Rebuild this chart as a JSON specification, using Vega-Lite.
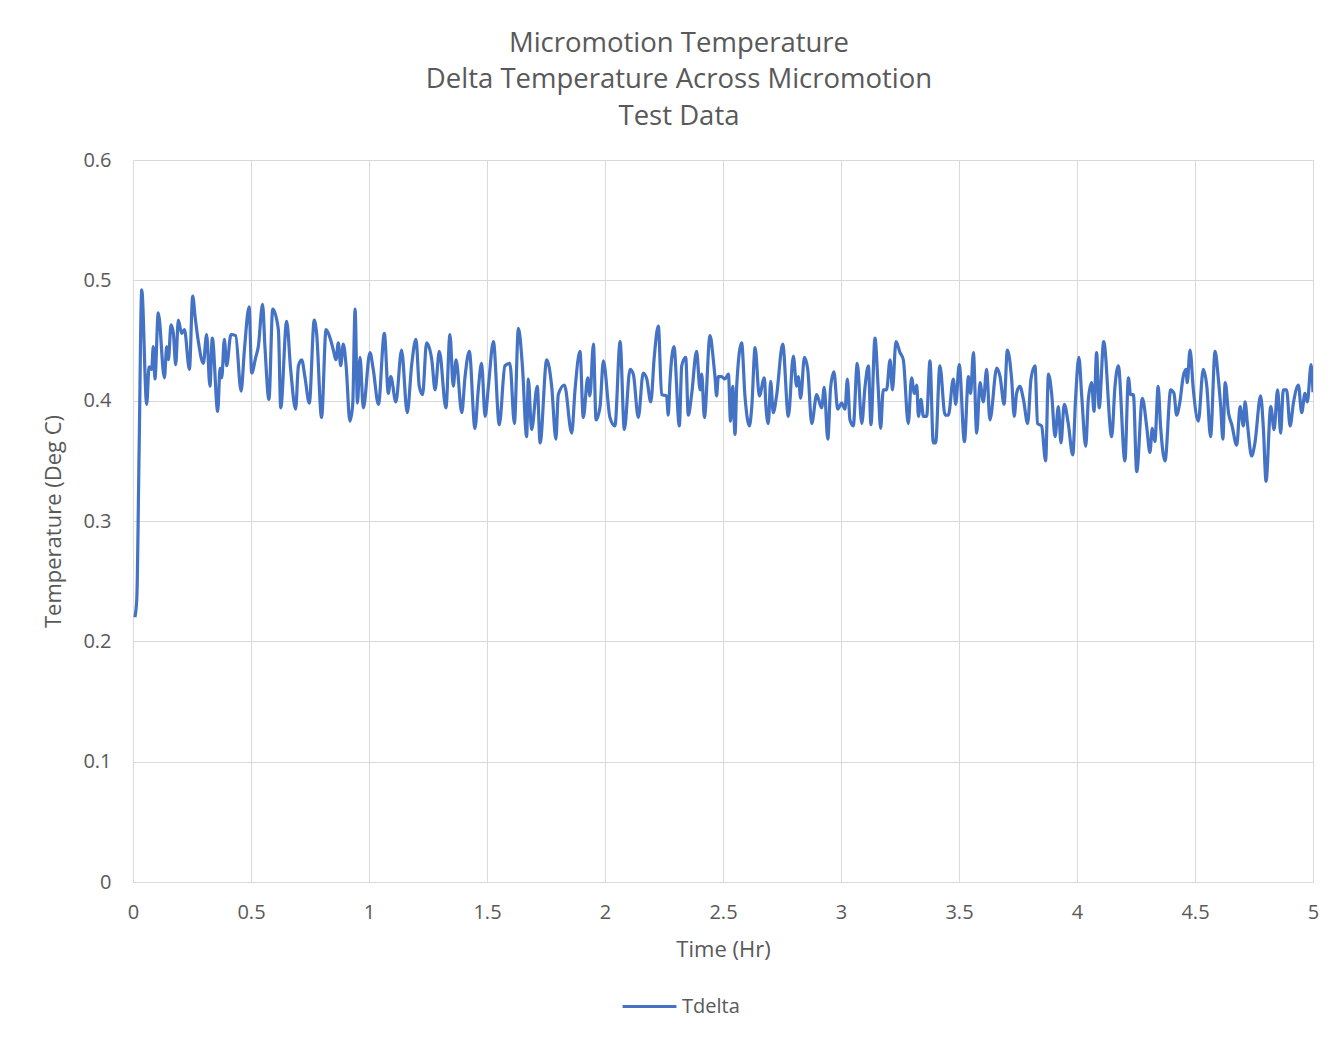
{
  "$schema": "https://vega.github.io/schema/vega-lite/v6.json",
  "width": 1180,
  "height": 722,
  "autosize": {"type": "none"},
  "padding": {"left": 133, "top": 160, "right": 22, "bottom": 155},
  "background": "white",
  "title": {
    "text": ["Micromotion Temperature", "Delta Temperature Across Micromotion", "Test Data"],
    "anchor": "middle",
    "dx": -44,
    "offset": 20,
    "fontSize": 27.5,
    "font": "Open Sans",
    "fontWeight": "normal",
    "color": "#595959",
    "lineHeight": 36.5
  },
  "config": {
    "view": {"stroke": null},
    "font": "Open Sans",
    "axis": {
      "grid": true,
      "gridColor": "#d9d9d9",
      "gridWidth": 1,
      "domain": false,
      "ticks": false,
      "labelColor": "#595959",
      "labelFontSize": 20,
      "titleColor": "#595959",
      "titleFontSize": 22,
      "titleFontWeight": "normal"
    }
  },
  "data": {
    "values": [
      {"time":0.008,"tdelta":0.22},{"time":0.016,"tdelta":0.235},{"time":0.026,"tdelta":0.36},{"time":0.037,"tdelta":0.492},{"time":0.058,"tdelta":0.397},{"time":0.068,"tdelta":0.428},{"time":0.079,"tdelta":0.426},{"time":0.086,"tdelta":0.445},{"time":0.093,"tdelta":0.418},{"time":0.107,"tdelta":0.473},{"time":0.133,"tdelta":0.419},{"time":0.143,"tdelta":0.445},{"time":0.150,"tdelta":0.434},{"time":0.161,"tdelta":0.463},{"time":0.171,"tdelta":0.456},{"time":0.181,"tdelta":0.430},{"time":0.192,"tdelta":0.467},{"time":0.206,"tdelta":0.456},{"time":0.218,"tdelta":0.459},{"time":0.239,"tdelta":0.426},{"time":0.253,"tdelta":0.487},{"time":0.263,"tdelta":0.470},{"time":0.277,"tdelta":0.449},{"time":0.298,"tdelta":0.431},{"time":0.312,"tdelta":0.455},{"time":0.326,"tdelta":0.412},{"time":0.336,"tdelta":0.452},{"time":0.359,"tdelta":0.391},{"time":0.369,"tdelta":0.427},{"time":0.376,"tdelta":0.419},{"time":0.387,"tdelta":0.451},{"time":0.397,"tdelta":0.429},{"time":0.415,"tdelta":0.455},{"time":0.435,"tdelta":0.454},{"time":0.458,"tdelta":0.408},{"time":0.472,"tdelta":0.442},{"time":0.492,"tdelta":0.478},{"time":0.503,"tdelta":0.423},{"time":0.520,"tdelta":0.436},{"time":0.531,"tdelta":0.445},{"time":0.549,"tdelta":0.480},{"time":0.559,"tdelta":0.445},{"time":0.576,"tdelta":0.401},{"time":0.592,"tdelta":0.476},{"time":0.616,"tdelta":0.459},{"time":0.626,"tdelta":0.394},{"time":0.651,"tdelta":0.466},{"time":0.668,"tdelta":0.426},{"time":0.689,"tdelta":0.393},{"time":0.701,"tdelta":0.429},{"time":0.715,"tdelta":0.434},{"time":0.729,"tdelta":0.419},{"time":0.747,"tdelta":0.398},{"time":0.768,"tdelta":0.467},{"time":0.778,"tdelta":0.456},{"time":0.799,"tdelta":0.386},{"time":0.818,"tdelta":0.459},{"time":0.835,"tdelta":0.452},{"time":0.849,"tdelta":0.442},{"time":0.860,"tdelta":0.434},{"time":0.870,"tdelta":0.448},{"time":0.880,"tdelta":0.429},{"time":0.891,"tdelta":0.447},{"time":0.903,"tdelta":0.429},{"time":0.919,"tdelta":0.383},{"time":0.931,"tdelta":0.397},{"time":0.941,"tdelta":0.476},{"time":0.951,"tdelta":0.398},{"time":0.962,"tdelta":0.436},{"time":0.976,"tdelta":0.394},{"time":1.004,"tdelta":0.440},{"time":1.018,"tdelta":0.426},{"time":1.040,"tdelta":0.397},{"time":1.065,"tdelta":0.456},{"time":1.082,"tdelta":0.406},{"time":1.092,"tdelta":0.420},{"time":1.114,"tdelta":0.399},{"time":1.138,"tdelta":0.442},{"time":1.162,"tdelta":0.390},{"time":1.181,"tdelta":0.430},{"time":1.199,"tdelta":0.451},{"time":1.213,"tdelta":0.412},{"time":1.227,"tdelta":0.405},{"time":1.244,"tdelta":0.448},{"time":1.266,"tdelta":0.434},{"time":1.280,"tdelta":0.409},{"time":1.298,"tdelta":0.441},{"time":1.326,"tdelta":0.394},{"time":1.343,"tdelta":0.455},{"time":1.357,"tdelta":0.412},{"time":1.369,"tdelta":0.434},{"time":1.393,"tdelta":0.390},{"time":1.407,"tdelta":0.420},{"time":1.425,"tdelta":0.441},{"time":1.449,"tdelta":0.377},{"time":1.463,"tdelta":0.409},{"time":1.477,"tdelta":0.431},{"time":1.492,"tdelta":0.387},{"time":1.506,"tdelta":0.412},{"time":1.527,"tdelta":0.449},{"time":1.552,"tdelta":0.380},{"time":1.576,"tdelta":0.429},{"time":1.597,"tdelta":0.431},{"time":1.616,"tdelta":0.381},{"time":1.633,"tdelta":0.460},{"time":1.650,"tdelta":0.429},{"time":1.668,"tdelta":0.370},{"time":1.675,"tdelta":0.418},{"time":1.689,"tdelta":0.376},{"time":1.713,"tdelta":0.412},{"time":1.725,"tdelta":0.365},{"time":1.753,"tdelta":0.434},{"time":1.774,"tdelta":0.412},{"time":1.792,"tdelta":0.368},{"time":1.802,"tdelta":0.405},{"time":1.828,"tdelta":0.413},{"time":1.859,"tdelta":0.373},{"time":1.873,"tdelta":0.409},{"time":1.894,"tdelta":0.441},{"time":1.908,"tdelta":0.386},{"time":1.927,"tdelta":0.419},{"time":1.936,"tdelta":0.404},{"time":1.951,"tdelta":0.447},{"time":1.962,"tdelta":0.384},{"time":1.979,"tdelta":0.395},{"time":1.993,"tdelta":0.433},{"time":2.021,"tdelta":0.386},{"time":2.042,"tdelta":0.379},{"time":2.064,"tdelta":0.449},{"time":2.082,"tdelta":0.376},{"time":2.106,"tdelta":0.426},{"time":2.120,"tdelta":0.422},{"time":2.141,"tdelta":0.386},{"time":2.162,"tdelta":0.423},{"time":2.177,"tdelta":0.418},{"time":2.194,"tdelta":0.399},{"time":2.209,"tdelta":0.437},{"time":2.226,"tdelta":0.462},{"time":2.240,"tdelta":0.405},{"time":2.261,"tdelta":0.404},{"time":2.268,"tdelta":0.388},{"time":2.275,"tdelta":0.415},{"time":2.292,"tdelta":0.445},{"time":2.315,"tdelta":0.379},{"time":2.325,"tdelta":0.429},{"time":2.342,"tdelta":0.436},{"time":2.353,"tdelta":0.388},{"time":2.367,"tdelta":0.405},{"time":2.388,"tdelta":0.441},{"time":2.403,"tdelta":0.409},{"time":2.410,"tdelta":0.422},{"time":2.421,"tdelta":0.386},{"time":2.445,"tdelta":0.454},{"time":2.459,"tdelta":0.434},{"time":2.466,"tdelta":0.420},{"time":2.473,"tdelta":0.404},{"time":2.480,"tdelta":0.420},{"time":2.494,"tdelta":0.420},{"time":2.508,"tdelta":0.418},{"time":2.523,"tdelta":0.422},{"time":2.532,"tdelta":0.383},{"time":2.541,"tdelta":0.412},{"time":2.551,"tdelta":0.372},{"time":2.558,"tdelta":0.412},{"time":2.579,"tdelta":0.448},{"time":2.593,"tdelta":0.404},{"time":2.612,"tdelta":0.379},{"time":2.622,"tdelta":0.395},{"time":2.636,"tdelta":0.444},{"time":2.654,"tdelta":0.404},{"time":2.675,"tdelta":0.419},{"time":2.682,"tdelta":0.395},{"time":2.692,"tdelta":0.381},{"time":2.702,"tdelta":0.416},{"time":2.713,"tdelta":0.390},{"time":2.727,"tdelta":0.404},{"time":2.753,"tdelta":0.447},{"time":2.777,"tdelta":0.387},{"time":2.798,"tdelta":0.437},{"time":2.812,"tdelta":0.412},{"time":2.819,"tdelta":0.420},{"time":2.829,"tdelta":0.402},{"time":2.845,"tdelta":0.436},{"time":2.859,"tdelta":0.426},{"time":2.876,"tdelta":0.381},{"time":2.897,"tdelta":0.405},{"time":2.918,"tdelta":0.394},{"time":2.929,"tdelta":0.411},{"time":2.944,"tdelta":0.368},{"time":2.956,"tdelta":0.411},{"time":2.970,"tdelta":0.424},{"time":2.986,"tdelta":0.393},{"time":3.003,"tdelta":0.398},{"time":3.017,"tdelta":0.393},{"time":3.027,"tdelta":0.418},{"time":3.038,"tdelta":0.384},{"time":3.052,"tdelta":0.379},{"time":3.069,"tdelta":0.431},{"time":3.088,"tdelta":0.381},{"time":3.102,"tdelta":0.412},{"time":3.116,"tdelta":0.429},{"time":3.127,"tdelta":0.380},{"time":3.144,"tdelta":0.452},{"time":3.158,"tdelta":0.409},{"time":3.168,"tdelta":0.377},{"time":3.179,"tdelta":0.409},{"time":3.193,"tdelta":0.409},{"time":3.208,"tdelta":0.434},{"time":3.218,"tdelta":0.409},{"time":3.233,"tdelta":0.449},{"time":3.250,"tdelta":0.440},{"time":3.264,"tdelta":0.434},{"time":3.285,"tdelta":0.381},{"time":3.299,"tdelta":0.419},{"time":3.311,"tdelta":0.406},{"time":3.321,"tdelta":0.413},{"time":3.328,"tdelta":0.387},{"time":3.339,"tdelta":0.401},{"time":3.349,"tdelta":0.387},{"time":3.363,"tdelta":0.387},{"time":3.377,"tdelta":0.433},{"time":3.391,"tdelta":0.365},{"time":3.401,"tdelta":0.365},{"time":3.419,"tdelta":0.429},{"time":3.441,"tdelta":0.388},{"time":3.455,"tdelta":0.388},{"time":3.476,"tdelta":0.418},{"time":3.486,"tdelta":0.397},{"time":3.501,"tdelta":0.430},{"time":3.523,"tdelta":0.366},{"time":3.540,"tdelta":0.420},{"time":3.549,"tdelta":0.406},{"time":3.561,"tdelta":0.440},{"time":3.575,"tdelta":0.373},{"time":3.589,"tdelta":0.415},{"time":3.603,"tdelta":0.399},{"time":3.617,"tdelta":0.426},{"time":3.631,"tdelta":0.384},{"time":3.660,"tdelta":0.427},{"time":3.674,"tdelta":0.420},{"time":3.691,"tdelta":0.397},{"time":3.705,"tdelta":0.442},{"time":3.723,"tdelta":0.418},{"time":3.734,"tdelta":0.387},{"time":3.744,"tdelta":0.406},{"time":3.758,"tdelta":0.412},{"time":3.773,"tdelta":0.401},{"time":3.791,"tdelta":0.381},{"time":3.805,"tdelta":0.418},{"time":3.822,"tdelta":0.429},{"time":3.833,"tdelta":0.381},{"time":3.850,"tdelta":0.379},{"time":3.867,"tdelta":0.350},{"time":3.879,"tdelta":0.422},{"time":3.893,"tdelta":0.405},{"time":3.907,"tdelta":0.370},{"time":3.921,"tdelta":0.395},{"time":3.932,"tdelta":0.365},{"time":3.946,"tdelta":0.397},{"time":3.963,"tdelta":0.381},{"time":3.982,"tdelta":0.355},{"time":3.994,"tdelta":0.402},{"time":4.008,"tdelta":0.436},{"time":4.020,"tdelta":0.404},{"time":4.037,"tdelta":0.362},{"time":4.048,"tdelta":0.401},{"time":4.062,"tdelta":0.415},{"time":4.072,"tdelta":0.391},{"time":4.083,"tdelta":0.440},{"time":4.094,"tdelta":0.394},{"time":4.113,"tdelta":0.449},{"time":4.147,"tdelta":0.370},{"time":4.161,"tdelta":0.412},{"time":4.175,"tdelta":0.429},{"time":4.203,"tdelta":0.350},{"time":4.218,"tdelta":0.419},{"time":4.227,"tdelta":0.405},{"time":4.239,"tdelta":0.405},{"time":4.253,"tdelta":0.341},{"time":4.277,"tdelta":0.402},{"time":4.295,"tdelta":0.379},{"time":4.309,"tdelta":0.357},{"time":4.319,"tdelta":0.377},{"time":4.330,"tdelta":0.366},{"time":4.344,"tdelta":0.412},{"time":4.354,"tdelta":0.379},{"time":4.373,"tdelta":0.350},{"time":4.397,"tdelta":0.409},{"time":4.411,"tdelta":0.406},{"time":4.422,"tdelta":0.388},{"time":4.436,"tdelta":0.399},{"time":4.450,"tdelta":0.420},{"time":4.462,"tdelta":0.426},{"time":4.467,"tdelta":0.415},{"time":4.479,"tdelta":0.442},{"time":4.493,"tdelta":0.409},{"time":4.514,"tdelta":0.383},{"time":4.535,"tdelta":0.426},{"time":4.550,"tdelta":0.412},{"time":4.566,"tdelta":0.370},{"time":4.585,"tdelta":0.441},{"time":4.599,"tdelta":0.418},{"time":4.609,"tdelta":0.395},{"time":4.618,"tdelta":0.368},{"time":4.628,"tdelta":0.415},{"time":4.642,"tdelta":0.390},{"time":4.656,"tdelta":0.380},{"time":4.677,"tdelta":0.363},{"time":4.691,"tdelta":0.395},{"time":4.705,"tdelta":0.379},{"time":4.712,"tdelta":0.399},{"time":4.723,"tdelta":0.379},{"time":4.740,"tdelta":0.354},{"time":4.754,"tdelta":0.365},{"time":4.778,"tdelta":0.404},{"time":4.790,"tdelta":0.376},{"time":4.801,"tdelta":0.333},{"time":4.821,"tdelta":0.395},{"time":4.835,"tdelta":0.376},{"time":4.850,"tdelta":0.409},{"time":4.863,"tdelta":0.373},{"time":4.874,"tdelta":0.409},{"time":4.888,"tdelta":0.409},{"time":4.903,"tdelta":0.379},{"time":4.917,"tdelta":0.398},{"time":4.938,"tdelta":0.413},{"time":4.952,"tdelta":0.390},{"time":4.966,"tdelta":0.406},{"time":4.976,"tdelta":0.399},{"time":4.992,"tdelta":0.430},{"time":5.0,"tdelta":0.407}
    ]
  },
  "mark": {"type": "line", "strokeWidth": 3.2, "interpolate": "monotone", "clip": true},
  "encoding": {
    "x": {
      "field": "time",
      "type": "quantitative",
      "scale": {"domain": [0, 5], "nice": false, "zero": false},
      "axis": {"values": [0, 0.5, 1, 1.5, 2, 2.5, 3, 3.5, 4, 4.5, 5], "format": "~g", "labelPadding": 20, "title": "Time (Hr)", "titlePadding": 17, "labelFlush": false}
    },
    "y": {
      "field": "tdelta",
      "type": "quantitative",
      "scale": {"domain": [0, 0.6], "nice": false},
      "axis": {"values": [0, 0.1, 0.2, 0.3, 0.4, 0.5, 0.6], "format": ".1~f", "labelPadding": 22, "title": "Temperature (Deg C)", "titlePadding": 17}
    },
    "color": {
      "datum": "Tdelta",
      "type": "nominal",
      "scale": {"range": ["#4472C4"]},
      "legend": {
        "title": null,
        "orient": "none",
        "legendX": 488,
        "legendY": 818,
        "symbolType": "stroke",
        "symbolSize": 2900,
        "symbolStrokeWidth": 3,
        "labelFontSize": 20,
        "labelColor": "#595959",
        "labelOffset": 4
      }
    }
  }
}
